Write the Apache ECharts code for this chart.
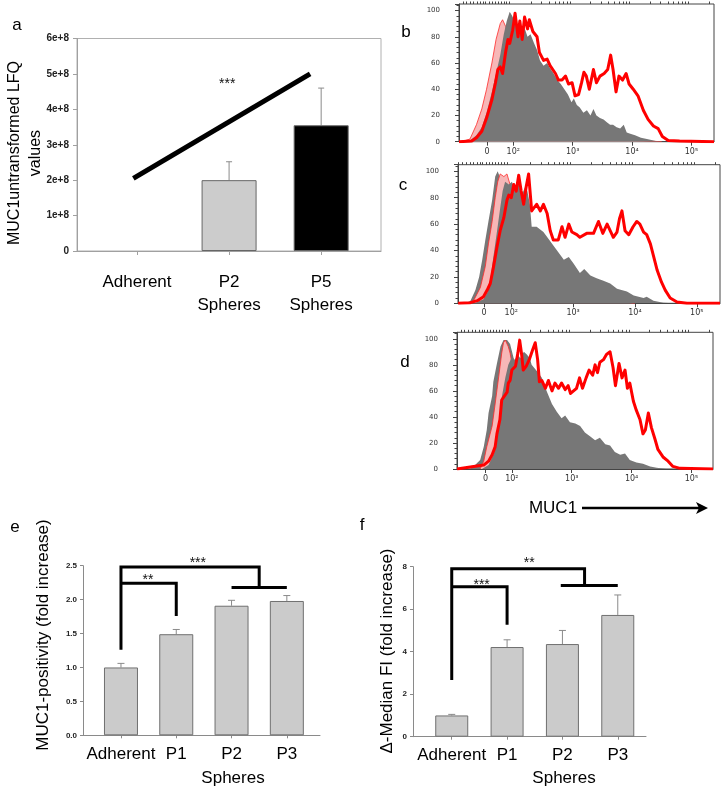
<!DOCTYPE html>
<html><head><meta charset="utf-8">
<script src="https://cdn.jsdelivr.net/npm/echarts@6/dist/echarts.min.js"></script>
<style>html,body{margin:0;padding:0;background:#fff}#c{width:724px;height:792px}</style>
</head><body><div id="c"></div>
<script>
// ---------- Panel a ----------
const aCats = ['Adherent', 'P2\nSpheres', 'P5\nSpheres'];
const aValues = [0, 2.0e8, 3.55e8];
const aErrTop = [null, 2.52e8, 4.6e8];
const aTrend = [[-0.04, 2.05e8], [1.88, 5.0e8]];
const aStars = [[0.98, 4.71e8]];
const aStarLabels = ['***'];

// ---------- Panels b, c, d (histograms: x in decades of MUC1, y = % of max) ----------
const histTicks = [1.56, 2, 3, 4, 5];
const histTickLabels = ['0', '10²', '10³', '10⁴', '10⁵'];

const bPink = [[1.10,0],[1.16,0.5],[1.27,2],[1.38,13],[1.47,25],[1.55,40],[1.64,60],[1.71,78],[1.78,90],[1.82,93],[1.87,88],[1.92,80],[2.0,70],[2.2,55],[2.5,38],[2.8,25],[3.2,12],[3.6,5],[4.0,1],[4.5,0]];
const bGray = [[1.086,0],[1.27,1],[1.38,5],[1.47,11],[1.55,22],[1.64,38],[1.71,52],[1.78,66],[1.84,82],[1.89,92],[1.94,99],[1.98,96],[2.02,92],[2.07,88],[2.13,84],[2.18,88],[2.24,80],[2.29,82],[2.35,75],[2.40,70],[2.45,62],[2.51,58],[2.57,60],[2.62,56],[2.68,52],[2.74,47],[2.80,44],[2.86,40],[2.92,36],[2.98,30],[3.02,33],[3.07,28],[3.12,26],[3.18,22],[3.24,24],[3.30,20],[3.35,25],[3.40,20],[3.46,18],[3.52,17],[3.57,15],[3.63,13],[3.68,13],[3.74,11],[3.80,10],[3.86,13],[3.91,7],[3.97,6],[4.05,5],[4.15,3],[4.25,2],[4.40,0.5],[4.55,0]];
const bRed = [[1.086,0],[1.30,0.5],[1.38,3],[1.47,8],[1.55,18],[1.64,32],[1.70,45],[1.74,55],[1.78,57],[1.82,52],[1.87,68],[1.91,78],[1.94,75],[1.99,85],[2.03,98],[2.08,80],[2.11,92],[2.15,78],[2.19,95],[2.24,86],[2.27,93],[2.33,84],[2.40,80],[2.44,68],[2.51,62],[2.57,63],[2.62,58],[2.71,52],[2.76,47],[2.82,47],[2.88,50],[2.93,44],[2.99,45],[3.04,35],[3.10,36],[3.15,45],[3.19,53],[3.23,50],[3.28,40],[3.35,55],[3.40,45],[3.46,50],[3.53,52],[3.59,55],[3.64,66],[3.68,55],[3.73,38],[3.78,50],[3.84,47],[3.90,52],[3.95,44],[4.02,40],[4.10,35],[4.19,24],[4.27,17],[4.36,12],[4.44,10],[4.51,4],[4.61,1],[4.80,0.5],[5.38,0]];

const cGrayBack = [[1.14,0],[1.30,1],[1.34,2],[1.42,10],[1.48,20],[1.53,33],[1.58,48],[1.63,62],[1.69,78],[1.74,96],[1.78,100],[1.82,95],[1.90,70],[2.0,40],[2.2,15],[2.5,3],[2.8,0]];
const cPink = [[1.30,0],[1.39,2],[1.50,12],[1.58,28],[1.63,45],[1.69,62],[1.74,80],[1.78,92],[1.82,98],[1.88,96],[1.93,98],[1.98,90],[2.04,75],[2.2,55],[2.5,30],[3.0,10],[3.5,3],[4.0,0]];
const cGray = [[1.40,0],[1.55,3],[1.61,8],[1.66,18],[1.71,35],[1.77,55],[1.82,72],[1.86,85],[1.90,92],[1.96,90],[2.01,92],[2.06,86],[2.12,90],[2.17,82],[2.22,88],[2.26,85],[2.30,75],[2.33,58],[2.41,58],[2.52,54],[2.63,47],[2.74,40],[2.85,33],[2.93,35],[3.01,30],[3.11,23],[3.18,26],[3.28,21],[3.38,19],[3.49,17],[3.60,15],[3.71,11],[3.87,9],[3.98,6],[4.14,4],[4.19,5],[4.30,2],[4.46,0.5],[4.62,0]];
const cRed = [[1.14,0],[1.34,0.5],[1.45,2],[1.55,5],[1.61,10],[1.66,15],[1.71,27],[1.77,43],[1.82,55],[1.88,65],[1.93,78],[1.96,82],[2.0,80],[2.04,90],[2.08,85],[2.12,97],[2.16,85],[2.20,75],[2.24,88],[2.28,98],[2.33,70],[2.36,70],[2.41,75],[2.47,70],[2.52,75],[2.58,68],[2.63,55],[2.68,48],[2.76,48],[2.82,58],[2.87,50],[2.93,60],[2.98,54],[3.06,52],[3.11,50],[3.22,53],[3.33,53],[3.41,62],[3.48,53],[3.55,60],[3.63,52],[3.65,50],[3.71,54],[3.75,64],[3.79,70],[3.84,55],[3.90,52],[3.97,58],[4.03,62],[4.08,60],[4.14,54],[4.19,52],[4.25,45],[4.30,36],[4.36,25],[4.43,16],[4.49,10],[4.57,4],[4.68,1],[4.84,0],[5.376,0]];

const dGrayBack = [[1.083,0],[1.30,0],[1.36,2],[1.47,7],[1.53,17],[1.58,30],[1.61,43],[1.67,56],[1.69,67],[1.75,81],[1.81,94],[1.86,99],[1.92,99],[1.97,96],[2.03,85],[2.10,62],[2.20,38],[2.40,16],[2.70,5],[3.0,0]];
const dPink = [[1.47,0],[1.53,6],[1.58,17],[1.67,33],[1.72,50],[1.78,71],[1.83,89],[1.86,97],[1.89,99],[1.94,94],[1.97,89],[2.0,81],[2.1,62],[2.25,42],[2.5,25],[2.8,14],[3.2,6],[3.6,2],[4.0,0]];
const dGray = [[1.50,0],[1.61,3],[1.70,12],[1.78,35],[1.83,55],[1.89,70],[1.94,80],[2.0,86],[2.05,84],[2.10,88],[2.14,85],[2.20,90],[2.25,88],[2.30,85],[2.33,80],[2.42,75],[2.50,70],[2.58,60],[2.67,50],[2.75,44],[2.83,39],[2.89,41],[2.97,36],[3.06,35],[3.14,33],[3.22,28],[3.31,25],[3.39,22],[3.47,24],[3.56,19],[3.64,18],[3.72,13],[3.81,11],[3.89,12],[3.97,7],[4.08,5],[4.19,4],[4.31,2],[4.42,1],[4.58,0]];
const dRed = [[1.083,0],[1.36,2],[1.53,3],[1.61,6],[1.67,11],[1.72,17],[1.75,27],[1.80,38],[1.83,53],[1.86,54],[1.92,59],[1.94,66],[1.97,68],[2.0,76],[2.06,79],[2.10,89],[2.13,99],[2.16,89],[2.19,76],[2.24,79],[2.29,84],[2.35,92],[2.39,97],[2.43,84],[2.46,67],[2.50,68],[2.56,62],[2.61,68],[2.67,60],[2.72,66],[2.78,62],[2.83,66],[2.89,61],[2.94,64],[2.98,58],[3.03,60],[3.08,62],[3.13,70],[3.18,62],[3.24,70],[3.29,76],[3.35,72],[3.39,80],[3.43,74],[3.47,82],[3.53,84],[3.58,88],[3.64,90],[3.69,78],[3.73,64],[3.79,81],[3.84,70],[3.89,76],[3.93,62],[3.97,66],[4.03,52],[4.08,45],[4.14,38],[4.19,27],[4.23,30],[4.28,43],[4.33,32],[4.39,23],[4.44,15],[4.53,9],[4.61,6],[4.69,2],[4.81,0.5],[5.36,0]];

// ---------- Panel e ----------
const eCats = ['Adherent', 'P1', 'P2', 'P3'];
const eValues = [1.0, 1.49, 1.91, 1.98];
const eErrTop = [1.06, 1.56, 1.99, 2.06];
const eBrackets = [
  [[0,1.26],[0,2.48],[2.5,2.48],[2.5,2.18]],
  [[0,2.24],[1,2.24],[1,1.76]],
  [[2,2.18],[3,2.18]]
];
const eStars = [[0.49,2.29],[1.39,2.54]];
const eStarLabels = ['**', '***'];

// ---------- Panel f ----------
const fCats = ['Adherent', 'P1', 'P2', 'P3'];
const fValues = [1.0, 4.22, 4.36, 5.73];
const fErrTop = [1.05, 4.56, 5.0, 6.67];
const fBrackets = [
  [[0,2.67],[0,7.9],[2.4,7.9],[2.4,7.12]],
  [[0,7.06],[1,7.06],[1,5.27]],
  [[1.97,7.12],[3,7.12]]
];
const fStars = [[1.40,8.17],[0.54,7.15]];
const fStarLabels = ['**', '***'];

// ================= build =================
const FONT = 'Liberation Sans, Arial, sans-serif';
const chart = echarts.init(document.getElementById('c'), null, {renderer: 'canvas'});

function errSeries(xi, yi, vals, tops, cw) {
  const data = [];
  vals.forEach((v, i) => { if (tops[i] != null) data.push([i, v, tops[i]]); });
  return {
    type: 'custom', xAxisIndex: xi, yAxisIndex: yi, z: 1, data: data,
    encode: {x: 0, y: [1, 2]},
    renderItem: function (params, api) {
      const x = api.value(0);
      const p1 = api.coord([x, api.value(1)]), p2 = api.coord([x, api.value(2)]);
      return {type: 'group', children: [
        {type: 'line', shape: {x1: p1[0], y1: p1[1], x2: p2[0], y2: p2[1]}, style: {stroke: '#8a8a8a', lineWidth: 1}},
        {type: 'line', shape: {x1: p2[0] - cw, y1: p2[1], x2: p2[0] + cw, y2: p2[1]}, style: {stroke: '#8a8a8a', lineWidth: 1}}
      ]};
    }
  };
}
function starSeries(xi, yi, pts, labels, size) {
  return {
    type: 'custom', xAxisIndex: xi, yAxisIndex: yi, z: 5, data: pts, clip: false,
    renderItem: function (params, api) {
      const p = api.coord([api.value(0), api.value(1)]);
      return {type: 'text', x: p[0], y: p[1], style: {text: labels[params.dataIndex], fontSize: size, fontFamily: FONT, fill: '#111', align: 'center', verticalAlign: 'middle'}};
    }
  };
}
function lineSeries(xi, yi, pts, w) {
  return {type: 'line', xAxisIndex: xi, yAxisIndex: yi, data: pts, symbol: 'none', clip: false, z: 4,
    lineStyle: {color: '#000', width: w, cap: 'butt', join: 'miter'}};
}
function barSeries(xi, yi, vals, colors, border, w) {
  const data = [];
  vals.forEach((v, i) => { if (v > 0) data.push({value: [i, v], itemStyle: {color: colors[i], borderColor: border, borderWidth: 1}}); });
  return {type: 'bar', xAxisIndex: xi, yAxisIndex: yi, barWidth: w, z: 2, data: data};
}
function histArea(xi, yi, pts, color, z) {
  return {type: 'line', xAxisIndex: xi, yAxisIndex: yi, data: pts, symbol: 'none', z: z,
    lineStyle: {width: 0, opacity: 0}, areaStyle: {color: color, opacity: 1}};
}
function histPink(xi, yi, pts, z) {
  return {type: 'line', xAxisIndex: xi, yAxisIndex: yi, data: pts, symbol: 'none', z: z,
    lineStyle: {width: 0.8, color: '#ff2a2a'}, areaStyle: {color: '#f7b7b7', opacity: 1}};
}
function histRed(xi, yi, pts, z) {
  return {type: 'line', xAxisIndex: xi, yAxisIndex: yi, data: pts, symbol: 'none', z: z,
    lineStyle: {width: 3, color: '#ff0000', join: 'round'}};
}

// minor tick positions on the biexponential axis
const minorT = [1.15, 1.21, 1.27, 1.33, 1.39, 1.45, 1.50, 1.53, 1.59, 1.64, 1.69, 1.74, 1.79, 1.84, 1.89, 1.94];
for (let k = 2; k <= 5; k++) for (let m = 2; m <= 9; m++) { const t = k + Math.log10(m); if (t < 5.35) minorT.push(t); }

const histRanges = [[1.086, 5.38], [1.138, 5.376], [1.083, 5.36]];
const grids = [
  {left: 77, top: 38.5, width: 304, height: 212.5, show: true, borderColor: '#b0b0b0', borderWidth: 1},
  {left: 459, top: 4, width: 255, height: 137.7, show: true, borderColor: '#444', borderWidth: 1},
  {left: 458, top: 164.7, width: 262, height: 138.6, show: true, borderColor: '#444', borderWidth: 1},
  {left: 457, top: 332.3, width: 256, height: 136.7, show: true, borderColor: '#444', borderWidth: 1},
  {left: 83, top: 565.7, width: 237, height: 169.6},
  {left: 413, top: 566.7, width: 233, height: 170}
];

const catLabel = (cats, margin, lh) => ({
  customValues: cats.map((c, i) => i), formatter: v => cats[Math.round(v)] || '',
  fontSize: 17, fontFamily: FONT, color: '#000', margin: margin, lineHeight: lh
});

const xAxes = [
  {gridIndex: 0, type: 'value', min: -0.652, max: 2.65, splitLine: {show: false},
    axisLine: {onZero: false, lineStyle: {color: '#a0a0a0'}}, axisTick: {customValues: [0, 1, 2], length: 4, lineStyle: {color: '#a0a0a0'}},
    axisLabel: catLabel(aCats, 20, 23)}
];
histRanges.forEach((r, i) => {
  xAxes.push({gridIndex: i + 1, type: 'value', min: r[0], max: r[1], splitLine: {show: false},
    axisLine: {onZero: false, lineStyle: {color: '#444'}},
    axisTick: {customValues: histTicks, length: 4, lineStyle: {color: '#444'}},
    axisLabel: {customValues: histTicks, formatter: v => histTickLabels[histTicks.indexOf(v)] || '', fontSize: 8, fontFamily: 'DejaVu Sans', color: '#333', margin: 6}});
});
xAxes.push({gridIndex: 4, type: 'value', min: -0.687, max: 3.6, splitLine: {show: false},
  axisLine: {onZero: false, lineStyle: {color: '#8a8a8a'}}, axisTick: {customValues: [0, 1, 2, 3], length: 3, lineStyle: {color: '#8a8a8a'}},
  axisLabel: catLabel(eCats, 9, 20)});
xAxes.push({gridIndex: 5, type: 'value', min: -0.70, max: 3.51, splitLine: {show: false},
  axisLine: {onZero: false, lineStyle: {color: '#8a8a8a'}}, axisTick: {customValues: [0, 1, 2, 3], length: 3, lineStyle: {color: '#8a8a8a'}},
  axisLabel: catLabel(fCats, 9, 20)});
histRanges.forEach((r, i) => {
  xAxes.push({gridIndex: i + 1, type: 'value', min: r[0], max: r[1], splitLine: {show: false},
    axisLine: {show: false, onZero: false}, axisLabel: {show: false},
    axisTick: {customValues: minorT, length: 2.5, lineStyle: {color: '#444'}}});
});

const yAxes = [
  {gridIndex: 0, type: 'value', min: 0, max: 6e8, interval: 1e8, splitLine: {show: false},
    axisLine: {show: true, onZero: false, lineStyle: {color: '#a0a0a0'}}, axisTick: {show: true, length: 4, lineStyle: {color: '#a0a0a0'}},
    axisLabel: {formatter: v => v === 0 ? '0' : (Math.round(v / 1e8) + 'e+8'), fontSize: 10, fontWeight: 'bold', fontFamily: FONT, color: '#222', margin: 8}}
];
for (let i = 1; i <= 3; i++) {
  yAxes.push({gridIndex: i, type: 'value', min: 0, max: 105, interval: 20, splitLine: {show: false},
    axisLine: {show: true, onZero: false, lineStyle: {color: '#444'}}, axisTick: {show: true, length: 4, lineStyle: {color: '#444'}},
    minorTick: {show: true, splitNumber: 5, length: 2.5, lineStyle: {color: '#444'}},
    axisLabel: {formatter: v => (v % 20 === 0 && v <= 100) ? String(v) : '', fontSize: 7, fontFamily: 'DejaVu Sans', color: '#333', margin: 19}});
}
yAxes.push({gridIndex: 4, type: 'value', min: 0, max: 2.5, interval: 0.5, splitLine: {show: false},
  axisLine: {show: true, onZero: false, lineStyle: {color: '#8a8a8a'}}, axisTick: {show: true, length: 3, lineStyle: {color: '#8a8a8a'}},
  axisLabel: {formatter: v => v.toFixed(1), fontSize: 8, fontWeight: 'bold', fontFamily: FONT, color: '#222', margin: 6}});
yAxes.push({gridIndex: 5, type: 'value', min: 0, max: 8, interval: 2, splitLine: {show: false},
  axisLine: {show: true, onZero: false, lineStyle: {color: '#8a8a8a'}}, axisTick: {show: true, length: 3, lineStyle: {color: '#8a8a8a'}},
  axisLabel: {formatter: v => String(v), fontSize: 8, fontWeight: 'bold', fontFamily: FONT, color: '#222', margin: 6}});

const GRAY = '#777777';
const series = [
  // a
  errSeries(0, 0, aValues, aErrTop, 3),
  barSeries(0, 0, aValues, ['#cccccc', '#cccccc', '#000000'], '#666', 55),
  lineSeries(0, 0, aTrend, 5),
  starSeries(0, 0, aStars, aStarLabels, 14),
  // b
  histPink(1, 1, bPink, 2), histArea(1, 1, bGray, GRAY, 3), histRed(1, 1, bRed, 4),
  // c
  histArea(2, 2, cGrayBack, GRAY, 1), histPink(2, 2, cPink, 2), histArea(2, 2, cGray, GRAY, 3), histRed(2, 2, cRed, 4),
  // d
  histArea(3, 3, dGrayBack, GRAY, 1), histPink(3, 3, dPink, 2), histArea(3, 3, dGray, GRAY, 3), histRed(3, 3, dRed, 4),
  // e
  errSeries(4, 4, eValues, eErrTop, 3.5),
  barSeries(4, 4, eValues, ['#cbcbcb', '#cbcbcb', '#cbcbcb', '#cbcbcb'], '#707070', 34),
  ...eBrackets.map(b => lineSeries(4, 4, b, 3)),
  starSeries(4, 4, eStars, eStarLabels, 14),
  // f
  errSeries(5, 5, fValues, fErrTop, 3.5),
  barSeries(5, 5, fValues, ['#cbcbcb', '#cbcbcb', '#cbcbcb', '#cbcbcb'], '#707070', 33),
  ...fBrackets.map(b => lineSeries(5, 5, b, 3)),
  starSeries(5, 5, fStars, fStarLabels, 14)
];

const txt = (x, y, s, size, rot) => ({type: 'text', x: x, y: y, rotation: rot || 0,
  style: {text: s, fontSize: size, fontFamily: FONT, fill: '#000', align: 'center', verticalAlign: 'middle', lineHeight: 21}});
const graphic = [
  txt(17, 25, 'a', 17), txt(406, 32, 'b', 17), txt(403, 185, 'c', 17), txt(405, 362, 'd', 17),
  txt(15, 527, 'e', 17), txt(362, 525, 'f', 17),
  txt(25, 153, 'MUC1untransformed LFQ\nvalues', 16, Math.PI / 2),
  txt(43, 635, 'MUC1-positivity (fold increase)', 17, Math.PI / 2),
  txt(387, 651, 'Δ-Median FI (fold increase)', 17, Math.PI / 2),
  txt(233, 778, 'Spheres', 17), txt(564, 778, 'Spheres', 17),
  txt(553, 508, 'MUC1', 17),
  {type: 'line', shape: {x1: 582, y1: 508, x2: 700, y2: 508}, style: {stroke: '#000', lineWidth: 2.5}},
  {type: 'polygon', shape: {points: [[696, 502], [708, 508], [696, 514], [699, 508]]}, style: {fill: '#000'}}
];

chart.setOption({animation: false, grid: grids, xAxis: xAxes, yAxis: yAxes, series: series, graphic: graphic});
</script></body></html>
